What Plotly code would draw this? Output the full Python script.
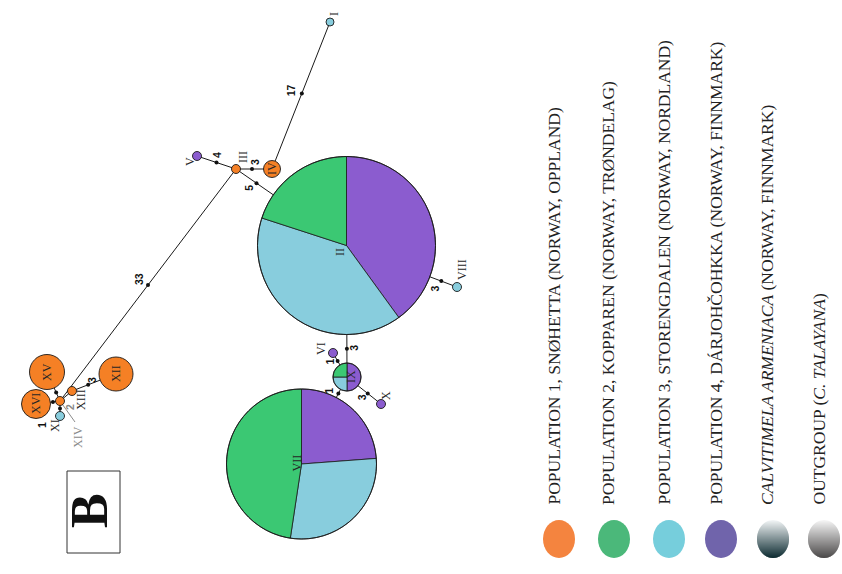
import math
import plotly.graph_objects as go

# ---------------- data ----------------
haplotypes = ["I", "II", "III", "IV", "V", "VI", "VII", "VIII",
              "IX", "X", "XI", "XII", "XIII", "XIV", "XV", "XVI"]
# individuals per haplotype and population
pop1_snohetta = [0, 0, 1, 1, 0, 0, 0, 0, 0, 0, 0, 4, 1, 1, 4, 3]
pop2_kopparen = [0, 6, 0, 0, 0, 0, 10, 0, 1, 0, 0, 0, 0, 0, 0, 0]
pop3_storeng = [1, 12, 0, 0, 0, 0, 6, 1, 1, 0, 1, 0, 0, 0, 0, 0]
pop4_darjoh = [0, 12, 0, 0, 1, 1, 5, 0, 2, 1, 0, 0, 0, 0, 0, 0]

# network edges and mutational steps
edge_from = ["I", "IV", "V", "III", "III", "II", "II", "IX", "IX", "IX", "XII", "XIII", "XIV", "XIV", "XIV"]
edge_to = ["IV", "III", "III", "II", "XIV", "VIII", "IX", "VI", "X", "VII", "XIII", "XIV", "XV", "XVI", "XI"]
mutations = [17, 3, 4, 5, 33, 3, 3, 1, 3, 1, 3, 1, 1, 1, 1]

legend_labels = [
    "POPULATION 1, SNØHETTA (NORWAY, OPPLAND)",
    "POPULATION 2, KOPPAREN (NORWAY, TRØNDELAG)",
    "POPULATION 3, STORENGDALEN (NORWAY, NORDLAND)",
    "POPULATION 4, DÁRJOHČOHKKA (NORWAY, FINNMARK)",
    "<i>CALVITIMELA ARMENIACA</i> (NORWAY, FINNMARK)",
    "OUTGROUP (<i>C. TALAYANA</i>)",
]

# ---------------- layout / style ----------------
W, H = 842, 574
NET_COL = {"p4": "#8B5CCF", "p3": "#88CDDD", "p2": "#3BC873", "p1": "#F58025"}
LEG_COL = ["#F4843F", "#4BB87A", "#76CEDC", "#7064AB"]
GRAD_COL = [("#F4F7F8", "#0B2A30"), ("#F7F7F7", "#4A4848")]

pos = {"I": (330, 22), "II": (346.5, 245.5), "III": (236, 169), "IV": (272, 169),
       "V": (197, 156), "VI": (333, 353), "VII": (301.5, 464), "VIII": (457, 287),
       "IX": (347, 377), "X": (381, 404), "XI": (60, 416), "XII": (116, 374),
       "XIII": (72, 391), "XIV": (60, 401), "XV": (47, 372), "XVI": (36, 404)}
radius = {"I": 4, "II": 89, "III": 4.5, "IV": 8.5, "V": 4.5, "VI": 4.5, "VII": 75,
          "VIII": 4.5, "IX": 14, "X": 4.5, "XI": 4.5, "XII": 17, "XIII": 4.5,
          "XIV": 4.5, "XV": 17.5, "XVI": 14.5}
# node label offsets (dx, dy) from node centre
label_off = {"I": (4, -8), "II": (-7, 7), "III": (7, -12), "IV": (0, 0), "V": (-7, 6),
             "VI": (-12, -4), "VII": (-5, -1), "VIII": (5, -17), "IX": (4, 0),
             "X": (5, -8), "XI": (-5, 10), "XII": (0, 0), "XIII": (9, 9),
             "XIV": (18, 36), "XV": (0, 0), "XVI": (0, 0)}
# mutation-count label offsets from the mutation dot (None = not labelled)
mut_off = [(-10, -3), (3, -7), (0, -7), (-7, 5), (-9, -6), (-6, 7), (7, -1),
           (-8, 1), (-5, 4), (-9, -3), (4, -5), None, None, None, None]
has_dot = [True] * 11 + [False, True, True, True]

fig = go.Figure()
shapes = []
ann = []
LINE = "#1a1a1a"

# edges
for a, b in zip(edge_from, edge_to):
    (x0, y0), (x1, y1) = pos[a], pos[b]
    shapes.append(dict(type="line", x0=x0, y0=y0, x1=x1, y1=y1,
                       line=dict(color=LINE, width=1)))
# pointer to XIV label
px, py = pos["XIV"]
shapes.append(dict(type="line", x0=px, y0=py, x1=px + 15, y1=py + 21,
                   line=dict(color="#8a8a8a", width=1)))


def wedge_path(cx, cy, r, a0, a1):
    n = max(4, int(abs(a1 - a0) / 2))
    pts = [(cx, cy)]
    for i in range(n + 1):
        t = math.radians(a0 + (a1 - a0) * i / n)
        pts.append((cx + r * math.sin(t), cy - r * math.cos(t)))
    return "M " + " L ".join(f"{x:.2f},{y:.2f}" for x, y in pts) + " Z"


# nodes (pies clockwise from top: pop4, pop3, pop2, pop1)
for i, h in enumerate(haplotypes):
    cx, cy = pos[h]
    r = radius[h]
    parts = [(pop4_darjoh[i], NET_COL["p4"]), (pop3_storeng[i], NET_COL["p3"]),
             (pop2_kopparen[i], NET_COL["p2"]), (pop1_snohetta[i], NET_COL["p1"])]
    parts = [p for p in parts if p[0] > 0]
    tot = sum(p[0] for p in parts)
    if len(parts) == 1:
        shapes.append(dict(type="circle", x0=cx - r, y0=cy - r, x1=cx + r, y1=cy + r,
                           fillcolor=parts[0][1], line=dict(color=LINE, width=0.9)))
    else:
        ang = 0.0
        for n, col in parts:
            a1 = ang + 360.0 * n / tot
            shapes.append(dict(type="path", path=wedge_path(cx, cy, r, ang, a1),
                               fillcolor=col, line=dict(color=LINE, width=0.8)))
            ang = a1
        shapes.append(dict(type="circle", x0=cx - r, y0=cy - r, x1=cx + r, y1=cy + r,
                           fillcolor="rgba(0,0,0,0)", line=dict(color=LINE, width=0.9)))
    dx, dy = label_off[h]
    col = "#8a8a8a" if h == "XIV" else "#262626"
    ann.append(dict(x=cx + dx, y=cy + dy, text=h, textangle=-90, showarrow=False,
                    xanchor="center", yanchor="middle",
                    font=dict(family="Liberation Serif", size=12, color=col)))

# mutation dots and counts
for k, (a, b) in enumerate(zip(edge_from, edge_to)):
    (x0, y0), (x1, y1) = pos[a], pos[b]
    d = math.hypot(x1 - x0, y1 - y0)
    ux, uy = (x1 - x0) / d, (y1 - y0) / d
    s = (radius[a] + d - radius[b]) / 2
    mx, my = x0 + ux * s, y0 + uy * s
    if has_dot[k]:
        shapes.append(dict(type="circle", x0=mx - 2, y0=my - 2, x1=mx + 2, y1=my + 2,
                           fillcolor="#111", line=dict(width=0)))
    if mut_off[k] is not None:
        ox, oy = mut_off[k]
        ann.append(dict(x=mx + ox, y=my + oy, text=f"<b>{mutations[k]}</b>", textangle=-90,
                        showarrow=False, xanchor="center", yanchor="middle",
                        font=dict(family="Liberation Sans", size=10.5, color="#111")))

# shared step label for the short edges and grey median label
ann.append(dict(x=42, y=425, text="<b>1</b>", textangle=-90, showarrow=False,
                font=dict(family="Liberation Sans", size=10.5, color="#111")))
ann.append(dict(x=70, y=407, text="<b>2</b>", textangle=-90, showarrow=False,
                font=dict(family="Liberation Sans", size=10.5, color="#8a8a8a")))

# panel letter
shapes.append(dict(type="rect", x0=67, y0=471, x1=120, y1=553,
                   line=dict(color="#333", width=1), fillcolor="rgba(0,0,0,0)"))
ann.append(dict(x=89, y=511, text="<b>B</b>", textangle=-90, showarrow=False,
                xanchor="center", yanchor="middle",
                font=dict(family="Liberation Serif", size=52, color="#111")))

# legend
leg_x = [559, 614, 669, 721, 773, 824]
leg_y = 539
rx, ry = 16, 19


def hex_rgb(c):
    c = c.lstrip("#")
    return tuple(int(c[i:i + 2], 16) for i in (0, 2, 4))


for j, cx in enumerate(leg_x):
    if j < 4:
        shapes.append(dict(type="circle", x0=cx - rx, y0=leg_y - ry, x1=cx + rx, y1=leg_y + ry,
                           fillcolor=LEG_COL[j], line=dict(width=0)))
    else:
        top, bot = hex_rgb(GRAD_COL[j - 4][0]), hex_rgb(GRAD_COL[j - 4][1])
        nb = 38
        for b in range(nb):
            ya = leg_y - ry + 2 * ry * b / nb
            yb = leg_y - ry + 2 * ry * (b + 1) / nb + 0.6
            yb = min(yb, leg_y + ry)
            pts_l, pts_r = [], []
            m = 4
            for q in range(m + 1):
                yy = ya + (yb - ya) * q / m
                t = max(0.0, 1 - ((yy - leg_y) / ry) ** 2)
                hw = rx * math.sqrt(t)
                pts_r.append((cx + hw, yy))
                pts_l.append((cx - hw, yy))
            poly = pts_r + pts_l[::-1]
            f = (b + 0.5) / nb
            rgb = tuple(int(top[c] + (bot[c] - top[c]) * f) for c in range(3))
            path = "M " + " L ".join(f"{x:.2f},{y:.2f}" for x, y in poly) + " Z"
            shapes.append(dict(type="path", path=path, fillcolor=f"rgb{rgb}", line=dict(width=0)))
    ann.append(dict(x=cx - 6, y=507, text=legend_labels[j], textangle=-90, showarrow=False,
                    xanchor="center", yanchor="bottom",
                    font=dict(family="Liberation Serif", size=17.5, color="#222")))

fig.update_layout(
    width=W, height=H, autosize=False,
    margin=dict(l=0, r=0, t=0, b=0),
    paper_bgcolor="white", plot_bgcolor="white",
    xaxis=dict(range=[0, W], visible=False, fixedrange=True),
    yaxis=dict(range=[H, 0], visible=False, fixedrange=True),
    shapes=shapes, annotations=ann, showlegend=False,
)
fig.write_html("out.html")
